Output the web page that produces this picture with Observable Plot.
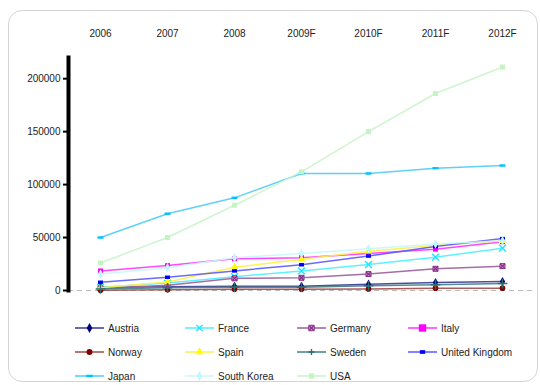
<!DOCTYPE html>
<html>
<head>
<meta charset="utf-8">
<script src="https://cdn.jsdelivr.net/npm/d3@7"></script>
<script src="https://cdn.jsdelivr.net/npm/@observablehq/plot@0.6"></script>
<style>
  html, body { margin: 0; padding: 0; background: #fff; }
  #wrap { position: relative; width: 540px; height: 385px; overflow: hidden; font-family: "Liberation Sans", Arial, sans-serif; }
  #card { position: absolute; left: 8px; top: 10px; width: 530px; height: 372px; border: 1px solid #d4d4d4; border-radius: 14px; box-sizing: border-box; }
  #chart { position: absolute; left: 0; top: 0; }
  #legend { position: absolute; left: 75px; top: 316px; display: grid; grid-template-columns: 110px 112px 111px 120px; grid-auto-rows: 24px; font-size: 10px; color: #222; }
  .item { display: flex; align-items: center; white-space: nowrap; }
  .item svg { margin-right: 4px; }
</style>
</head>
<body>
<div id="wrap">
  <div id="card"></div>
  <div id="chart"></div>
  <div id="legend"></div>
</div>
<script>
// Periods on the horizontal axis
const years = ["2006", "2007", "2008", "2009F", "2010F", "2011F", "2012F"];
const yTicks = [0, 50000, 100000, 150000, 200000];

// Series values, one list per country
const austria    = [3000, 3500, 4000, 4000, 6000, 7500, 8500];
const france     = [3000, 7000, 13000, 18500, 24500, 31500, 40000];
const germany    = [2000, 5000, 11500, 12000, 15500, 20500, 23000];
const italy      = [18500, 23500, 30000, 31000, 35000, 39000, 46000];
const norway     = [300, 800, 1200, 1200, 1500, 2200, 2200];
const spain      = [2500, 8000, 22000, 29500, 37000, 42500, 47000];
const sweden     = [1500, 2500, 3000, 3000, 4500, 5500, 6500];
const uk         = [7800, 12500, 18500, 24300, 32500, 41500, 49000];
const japan      = [50000, 72500, 87500, 110500, 110500, 115500, 118000];
const southKorea = [15500, 21500, 31000, 35000, 39500, 44000, 47000];
const usa        = [26000, 50000, 80500, 112000, 150000, 186000, 211000];

const countries = ["Austria", "France", "Germany", "Italy", "Norway", "Spain", "Sweden", "United Kingdom", "Japan", "South Korea", "USA"];
const seriesValues = [austria, france, germany, italy, norway, spain, sweden, uk, japan, southKorea, usa];

// Styling for each series: line colour, marker colour, marker shape
const lineColors   = ["#3a3a96", "#4cefff", "#9a5f9a", "#ff33ff", "#a04a4a", "#fff04a", "#3f7f7f", "#5a5aff", "#4cccf7", "#c8f7fb", "#c8f5c8"];
const markerColors = ["#000080", "#22e8ff", "#8a2a8a", "#ff00ff", "#800000", "#ffff00", "#2a6f6f", "#0000ff", "#00c0ff", "#c0f8ff", "#c4f4c4"];

// Custom marker shapes
const dash = { draw(ctx, size) { const w = Math.sqrt(size) * 1.2, h = w * 0.4; ctx.rect(-w / 2, -h / 2, w, h); } };
const smallRect = { draw(ctx, size) { const w = Math.sqrt(size) * 1.0, h = w * 0.7; ctx.rect(-w / 2, -h / 2, w, h); } };
const symbols = [d3.symbolDiamond, "times", "square", "square", "circle", "triangle", "plus", smallRect, dash, d3.symbolDiamond, "square"];

const rows = countries.flatMap((c, i) => years.map((y, j) => ({ country: c, year: y, value: seriesValues[i][j], idx: i })));

const W = 540, H = 300;
const chart = Plot.plot({
  width: W,
  height: H,
  marginTop: 57,
  marginBottom: 10,
  marginLeft: 68,
  marginRight: 7,
  style: { fontFamily: "Liberation Sans, Arial, sans-serif", fontSize: "10px", color: "#222", background: "transparent" },
  x: { type: "point", domain: years, padding: 0.46, axis: null },
  y: { domain: [0, 220000], axis: null },
  marks: [
    Plot.ruleY([0], { stroke: "#b8b8b8", strokeWidth: 1.2, strokeDasharray: "5,4" }),
    Plot.axisY(yTicks, { anchor: "left", tickSize: 5, tickPadding: 3, tickFormat: d => String(d), stroke: "#000", strokeWidth: 2, fontSize: 10, label: null }),
    Plot.frame({ anchor: "left", stroke: "#000", strokeWidth: 4 }),
    Plot.text(years, { x: d => d, frameAnchor: "top", lineAnchor: "middle", dy: -24, fontSize: 10, fill: "#222" }),
    ...countries.flatMap((c, i) => {
      const data = rows.filter(r => r.idx === i);
      const marks = [
        Plot.line(data, { x: "year", y: "value", stroke: lineColors[i], strokeWidth: 1.5, strokeOpacity: 0.9 })
      ];
      const sym = symbols[i];
      const filled = !(sym === "times" || sym === "plus");
      if (c === "Germany") {
        marks.push(Plot.dot(data, { x: "year", y: "value", symbol: "square", r: 2.8, fill: "#c9a6c9", stroke: markerColors[i], strokeWidth: 1 }));
        marks.push(Plot.dot(data, { x: "year", y: "value", symbol: "times", r: 2.4, stroke: markerColors[i], strokeWidth: 1.2 }));
      } else if (filled) {
        marks.push(Plot.dot(data, { x: "year", y: "value", symbol: sym, r: 2.8, fill: markerColors[i], stroke: "none" }));
      } else {
        marks.push(Plot.dot(data, { x: "year", y: "value", symbol: sym, r: 3.2, stroke: markerColors[i], strokeWidth: 1.5 }));
      }
      return marks;
    })
  ]
});
document.getElementById("chart").append(chart);

// Legend: line swatch with marker, then the series name
const legend = d3.select("#legend");
countries.forEach((c, i) => {
  const item = legend.append("div").attr("class", "item");
  const svg = item.append("svg").attr("width", 29).attr("height", 10);
  svg.append("line").attr("x1", 0).attr("x2", 29).attr("y1", 5).attr("y2", 5)
    .attr("stroke", lineColors[i]).attr("stroke-width", 1.5);
  const sym = symbols[i];
  const symType = sym === "square" ? d3.symbolSquare
    : sym === "circle" ? d3.symbolCircle : sym === "triangle" ? d3.symbolTriangle : sym;
  const g = svg.append("g").attr("transform", "translate(14.5,5)");
  if (sym === "times" || sym === "plus") {
    g.append("path").attr("d", sym === "plus" ? "M-3,0H3M0,-3V3" : "M-3,-3L3,3M-3,3L3,-3")
      .attr("stroke", markerColors[i]).attr("stroke-width", 1.4).attr("fill", "none");
  } else if (c === "Germany") {
    g.append("path").attr("d", d3.symbol(d3.symbolSquare, 30)()).attr("fill", "#c9a6c9").attr("stroke", markerColors[i]);
    g.append("path").attr("d", "M-2,-2L2,2M-2,2L2,-2").attr("stroke", markerColors[i]).attr("stroke-width", 1.2);
  } else {
    const size = c === "Italy" ? 55 : 28;
    g.append("path").attr("d", d3.symbol(symType, size)()).attr("fill", markerColors[i]);
  }
  item.append("span").text(c);
});
</script>
</body>
</html>
